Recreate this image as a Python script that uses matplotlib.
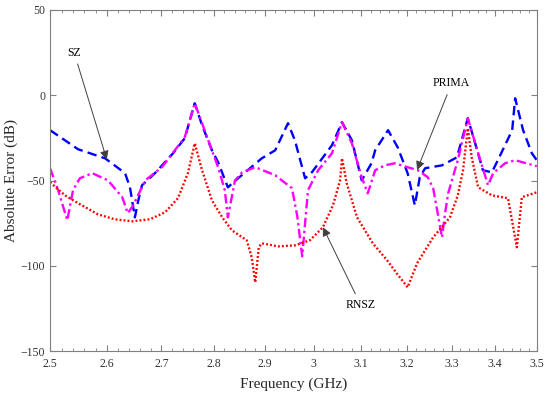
import numpy as np
import matplotlib.pyplot as plt
from matplotlib.ticker import FixedLocator, FixedFormatter, NullFormatter

plt.rcParams['font.family'] = ['Liberation Serif', 'DejaVu Serif']

# SZ (blue dashed)
sz_f = [2.5, 2.549, 2.597, 2.633, 2.642, 2.651, 2.657, 2.664, 2.688, 2.722, 2.744,
        2.763, 2.777, 2.796, 2.808, 2.827, 2.847, 2.894, 2.921, 2.947, 2.961, 2.982,
        2.996, 3.038, 3.059, 3.080, 3.101, 3.122, 3.130, 3.158, 3.179, 3.201, 3.217,
        3.228, 3.240, 3.278, 3.312, 3.337, 3.354, 3.372, 3.393, 3.407, 3.441, 3.448,
        3.467, 3.488, 3.5]
sz_db = [-20.5, -31.7, -37.0, -45.7, -54.0, -71.6, -62.0, -52.8, -45.7, -34.0, -25.2,
         -4.7, -17.6, -32.3, -39.3, -54.0, -48.7, -37.0, -32.3, -16.4, -26.4, -48.7,
         -45.2, -29.3, -15.8, -26.4, -49.9, -39.9, -32.3, -20.5, -30.5, -45.7, -64.5,
         -48.1, -42.8, -41.1, -36.4, -13.5, -28.2, -44.0, -45.2, -38.1, -20.5, -1.8,
         -20.5, -34.0, -38.1]

# PRIMA (magenta dash-dot)
prima_f = [2.5, 2.514, 2.530, 2.540, 2.552, 2.574, 2.602, 2.628, 2.638, 2.648, 2.670,
           2.701, 2.744, 2.763, 2.777, 2.796, 2.808, 2.821, 2.827, 2.841, 2.855, 2.881,
           2.921, 2.955, 2.966, 2.976, 2.988, 3.009, 3.038, 3.059, 3.080, 3.101, 3.114,
           3.130, 3.151, 3.173, 3.201, 3.224, 3.246, 3.258, 3.267, 3.278, 3.285, 3.292,
           3.314, 3.337, 3.361, 3.384, 3.396, 3.424, 3.448, 3.5]
prima_db = [-42.8, -55.7, -73.3, -55.7, -48.7, -45.7, -49.9, -59.8, -69.2, -64.5, -49.9,
            -42.2, -24.6, -4.7, -16.4, -32.3, -42.2, -55.7, -71.6, -49.9, -45.2, -42.2,
            -46.9, -54.5, -71.0, -94.4, -55.7, -44.0, -34.0, -15.8, -28.2, -48.1, -57.5,
            -44.0, -41.1, -39.9, -42.2, -44.0, -48.1, -54.5, -67.4, -83.3, -69.2, -57.5,
            -38.1, -13.5, -34.0, -52.8, -45.7, -39.9, -38.1, -41.6]

# RNSZ (red dotted)
rnsz_f = [2.5, 2.526, 2.549, 2.584, 2.614, 2.646, 2.679, 2.707, 2.731, 2.750, 2.763,
          2.777, 2.796, 2.816, 2.835, 2.864, 2.874, 2.881, 2.888, 2.894, 2.927, 2.961,
          2.992, 3.019, 3.040, 3.055, 3.059, 3.069, 3.091, 3.125, 3.156, 3.177, 3.201,
          3.222, 3.258, 3.296, 3.314, 3.326, 3.337, 3.346, 3.361, 3.393, 3.431, 3.452,
          3.464, 3.5]
rnsz_db = [-51.0, -58.7, -63.3, -69.8, -72.7, -73.9, -72.7, -68.6, -60.4, -45.7, -28.2,
           -44.0, -61.6, -71.6, -79.2, -85.0, -95.0, -109.7, -89.1, -86.8, -88.6, -88.0,
           -85.0, -77.4, -64.5, -49.9, -37.0, -51.6, -71.6, -86.8, -96.8, -104.4, -112.6,
           -98.5, -83.3, -71.6, -58.7, -44.0, -19.4, -36.4, -54.0, -58.7, -60.4, -89.1,
           -59.8, -56.9]

x_ticks = [2.5, 2.6, 2.7, 2.8, 2.9, 3.0, 3.1, 3.2, 3.3, 3.4, 3.5]
x_tick_labels = ['2.5', '2.6', '2.7', '2.8', '2.9', '3', '3.1', '3.2', '3.3', '3.4', '3.5']
y_ticks = [-150, -100, -50, 0, 50]

fig = plt.figure(figsize=(5.5, 3.95), dpi=100)
ax = fig.add_axes([0.091, 0.111, 0.885, 0.864])

ax.plot(sz_f, sz_db, color='#0000ff', lw=1.7, ls=(0, (4, 2.2)))
ax.plot(prima_f, prima_db, color='#ff00ff', lw=1.7, ls=(0, (4, 1.5, 1, 1.5)))
ax.plot(rnsz_f, rnsz_db, color='#ff0000', lw=1.7, ls=(0, (0.8, 0.9)))

ax.set_xscale('log')
ax.set_xlim(2.5, 3.5)
ax.set_ylim(-150, 50)
ax.xaxis.set_major_locator(FixedLocator(x_ticks))
ax.xaxis.set_major_formatter(FixedFormatter(x_tick_labels))
minor = [v for v in np.round(np.arange(2.5, 3.5, 0.02), 2) if round(v * 10) != v * 10]
ax.xaxis.set_minor_locator(FixedLocator(minor))
ax.xaxis.set_minor_formatter(NullFormatter())
ax.set_yticks(y_ticks)

for s in ax.spines.values():
    s.set_color('0.5')
    s.set_linewidth(0.8)
ax.tick_params(which='both', direction='in', top=True, right=True, color='0.5',
               labelsize=8.5, labelcolor='0.2')
ax.tick_params(which='major', length=4)
ax.tick_params(which='minor', length=2)
ax.tick_params(axis='x', which='major', pad=5)

ax.set_xlabel('Frequency (GHz)', fontsize=11, color='0.15', labelpad=5)
ax.set_ylabel('Absolute Error (dB)', fontsize=11, color='0.15', labelpad=2)

arrow = dict(arrowstyle='-|>', color='0.25', lw=0.7, mutation_scale=13,
             shrinkA=2, shrinkB=0)
ax.annotate('SZ', xy=(2.6, np.interp(2.6, sz_f, sz_db)), xytext=(2.542, 25),
            ha='center', va='center', fontsize=8.5, arrowprops=arrow)
ax.annotate('PRIMA', xy=(3.222, np.interp(3.222, prima_f, prima_db)), xytext=(3.30, 7),
            ha='center', va='center', fontsize=8.5, arrowprops=arrow)
ax.annotate('RNSZ', xy=(3.019, np.interp(3.019, rnsz_f, rnsz_db)), xytext=(3.099, -123),
            ha='center', va='center', fontsize=8.5, arrowprops=arrow)

fig.savefig('out.png', dpi=100)
